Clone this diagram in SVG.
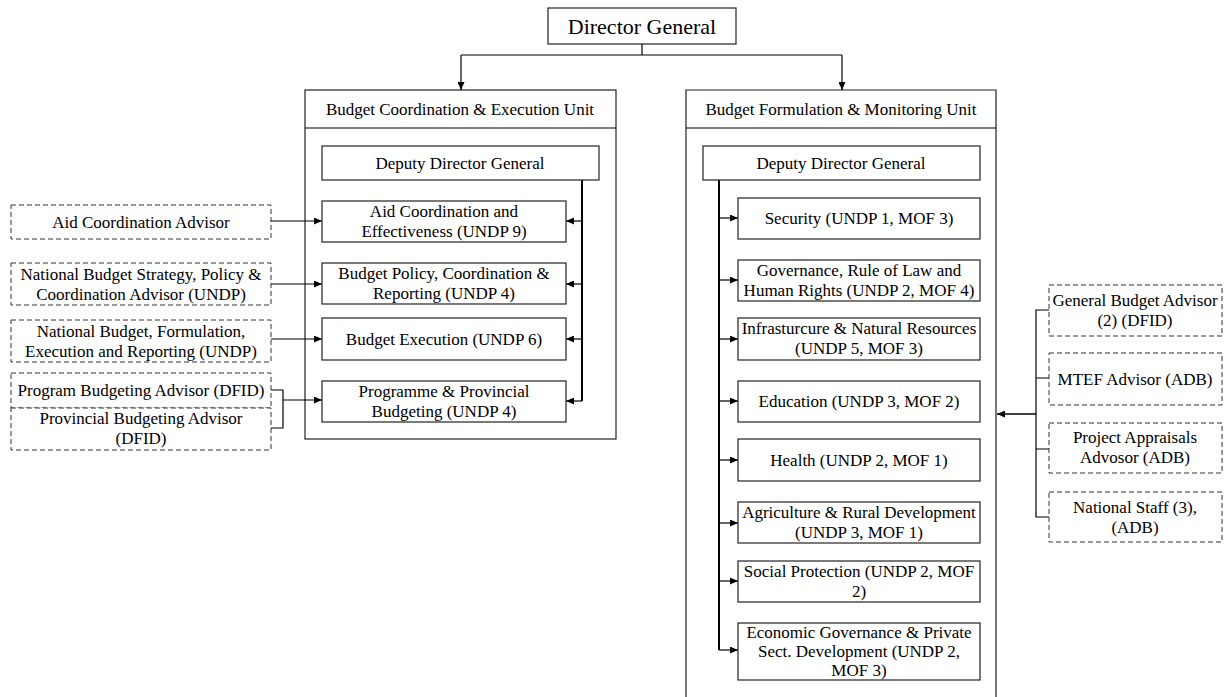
<svg xmlns="http://www.w3.org/2000/svg" width="1225" height="697" viewBox="0 0 1225 697">
<defs>
<marker id="ah" markerWidth="8" markerHeight="7" refX="8" refY="3.5" orient="auto" markerUnits="userSpaceOnUse"><path d="M0,0 L8,3.5 L0,7 Z" fill="#000"/></marker>
<style>
text{font-family:"Liberation Serif","Times New Roman",serif;font-size:17px;fill:#000;text-anchor:middle}
.box{fill:#fff;stroke:#222;stroke-width:1.2}
.dash{fill:#fff;stroke:#333;stroke-width:1;stroke-dasharray:5,3}
.unit{fill:none;stroke:#222;stroke-width:1.2}
.ln{fill:none;stroke:#000;stroke-width:1.2}
.bold{fill:none;stroke:#000;stroke-width:2}
.arr{fill:none;stroke:#000;stroke-width:1.2;marker-end:url(#ah)}
</style>
</defs>
<rect width="1225" height="697" fill="#fff"/>

<g id="units">
<g id="unit-left"><rect class="unit" x="305" y="90" width="311" height="349"/><line class="ln" x1="305" y1="128" x2="616" y2="128"/><text x="460" y="115">Budget Coordination &amp; Execution Unit</text></g>
<g id="unit-right"><path class="unit" d="M686,705 L686,90 L996,90 L996,705"/><line class="ln" x1="686" y1="128" x2="996" y2="128"/><text x="841" y="115">Budget Formulation &amp; Monitoring Unit</text></g>
</g>

<g id="connectors">
<path class="ln" d="M642,44 V55 M461,55 H842"/>
<path class="arr" d="M461,55 V90"/>
<path class="arr" d="M842,55 V90"/>
<!-- left unit spine -->
<path class="bold" d="M582,180 V401"/>
<path class="arr" d="M582,221 H566"/>
<path class="arr" d="M582,284 H566"/>
<path class="arr" d="M582,339 H566"/>
<path class="arr" d="M582,401 H566"/>
<!-- left advisors -->
<path class="arr" d="M271,221 H322"/>
<path class="arr" d="M271,284 H322"/>
<path class="arr" d="M271,339 H322"/>
<path class="ln" d="M271,390 H283 V428 H271"/>
<path class="arr" d="M283,400 H322"/>
<!-- right unit spine -->
<path class="bold" d="M719,180 V650"/>
<path class="arr" d="M719,218 H738"/>
<path class="arr" d="M719,280 H738"/>
<path class="arr" d="M719,339 H738"/>
<path class="arr" d="M719,401 H738"/>
<path class="arr" d="M719,460 H738"/>
<path class="arr" d="M719,523 H738"/>
<path class="arr" d="M719,581 H738"/>
<path class="arr" d="M719,650 H738"/>
<!-- right advisors -->
<path class="ln" d="M1049,310 H1036 V517 H1049 M1036,378 H1049 M1036,449 H1049"/>
<path class="arr" style="stroke-width:1.6" d="M1036,414 H997"/>
</g>

<g id="dg"><rect class="box" x="548" y="8" width="188" height="36"/><text x="642" y="34" style="font-size:22px">Director General</text></g>

<g id="ddg-left"><rect class="box" x="322" y="146" width="277" height="34"/><text x="460" y="169">Deputy Director General</text></g>
<g id="aid-coord"><rect class="box" x="322" y="201" width="244" height="41"/><text x="444" y="217">Aid Coordination and</text><text x="444" y="237">Effectiveness (UNDP 9)</text></g>
<g id="budget-policy"><rect class="box" x="322" y="263" width="244" height="41"/><text x="444" y="279">Budget Policy, Coordination &amp;</text><text x="444" y="299">Reporting (UNDP 4)</text></g>
<g id="budget-exec"><rect class="box" x="322" y="318" width="244" height="42"/><text x="444" y="345">Budget Execution (UNDP 6)</text></g>
<g id="programme"><rect class="box" x="322" y="381" width="244" height="41"/><text x="444" y="397">Programme &amp; Provincial</text><text x="444" y="417">Budgeting (UNDP 4)</text></g>

<g id="adv-aid"><rect class="dash" x="11" y="205" width="260" height="34"/><text x="141" y="228">Aid Coordination Advisor</text></g>
<g id="adv-nbs"><rect class="dash" x="11" y="263" width="260" height="42"/><text x="141" y="280">National Budget Strategy, Policy &amp;</text><text x="141" y="300">Coordination Advisor (UNDP)</text></g>
<g id="adv-nbf"><rect class="dash" x="11" y="320" width="260" height="42"/><text x="141" y="337">National Budget, Formulation,</text><text x="141" y="357">Execution and Reporting (UNDP)</text></g>
<g id="adv-prog"><rect class="dash" x="11" y="373" width="260" height="35"/><text x="141" y="396">Program Budgeting Advisor (DFID)</text></g>
<g id="adv-prov"><rect class="dash" x="11" y="408" width="260" height="42"/><text x="141" y="424">Provincial Budgeting Advisor</text><text x="141" y="444">(DFID)</text></g>

<g id="ddg-right"><rect class="box" x="703" y="146" width="277" height="34"/><text x="841" y="169">Deputy Director General</text></g>
<g id="security"><rect class="box" x="738" y="198" width="242" height="41"/><text x="859" y="224">Security (UNDP 1, MOF 3)</text></g>
<g id="governance"><rect class="box" x="738" y="260" width="242" height="41"/><text x="859" y="276">Governance, Rule of Law and</text><text x="859" y="296">Human Rights (UNDP 2, MOF 4)</text></g>
<g id="infra"><rect class="box" x="738" y="318" width="242" height="42"/><text x="859" y="334">Infrasturcure &amp; Natural Resources</text><text x="859" y="354">(UNDP 5, MOF 3)</text></g>
<g id="education"><rect class="box" x="738" y="381" width="242" height="41"/><text x="859" y="407">Education (UNDP 3, MOF 2)</text></g>
<g id="health"><rect class="box" x="738" y="439" width="242" height="42"/><text x="859" y="466">Health (UNDP 2, MOF 1)</text></g>
<g id="agriculture"><rect class="box" x="738" y="502" width="242" height="41"/><text x="859" y="518">Agriculture &amp; Rural Development</text><text x="859" y="538">(UNDP 3, MOF 1)</text></g>
<g id="social"><rect class="box" x="738" y="561" width="242" height="41"/><text x="859" y="577">Social Protection (UNDP 2, MOF</text><text x="859" y="597">2)</text></g>
<g id="economic"><rect class="box" x="738" y="623" width="242" height="57"/><text x="859" y="638">Economic Governance &amp; Private</text><text x="859" y="657">Sect. Development (UNDP 2,</text><text x="859" y="676">MOF 3)</text></g>

<g id="adv-gba"><rect class="dash" x="1049" y="285" width="173" height="51"/><text x="1135" y="306">General Budget Advisor</text><text x="1135" y="326">(2) (DFID)</text></g>
<g id="adv-mtef"><rect class="dash" x="1049" y="353" width="173" height="52"/><text x="1135" y="385">MTEF Advisor (ADB)</text></g>
<g id="adv-proj"><rect class="dash" x="1049" y="423" width="173" height="50"/><text x="1135" y="443">Project Appraisals</text><text x="1135" y="463">Advosor (ADB)</text></g>
<g id="adv-staff"><rect class="dash" x="1049" y="492" width="173" height="50"/><text x="1135" y="513">National Staff (3),</text><text x="1135" y="533">(ADB)</text></g>
</svg>
